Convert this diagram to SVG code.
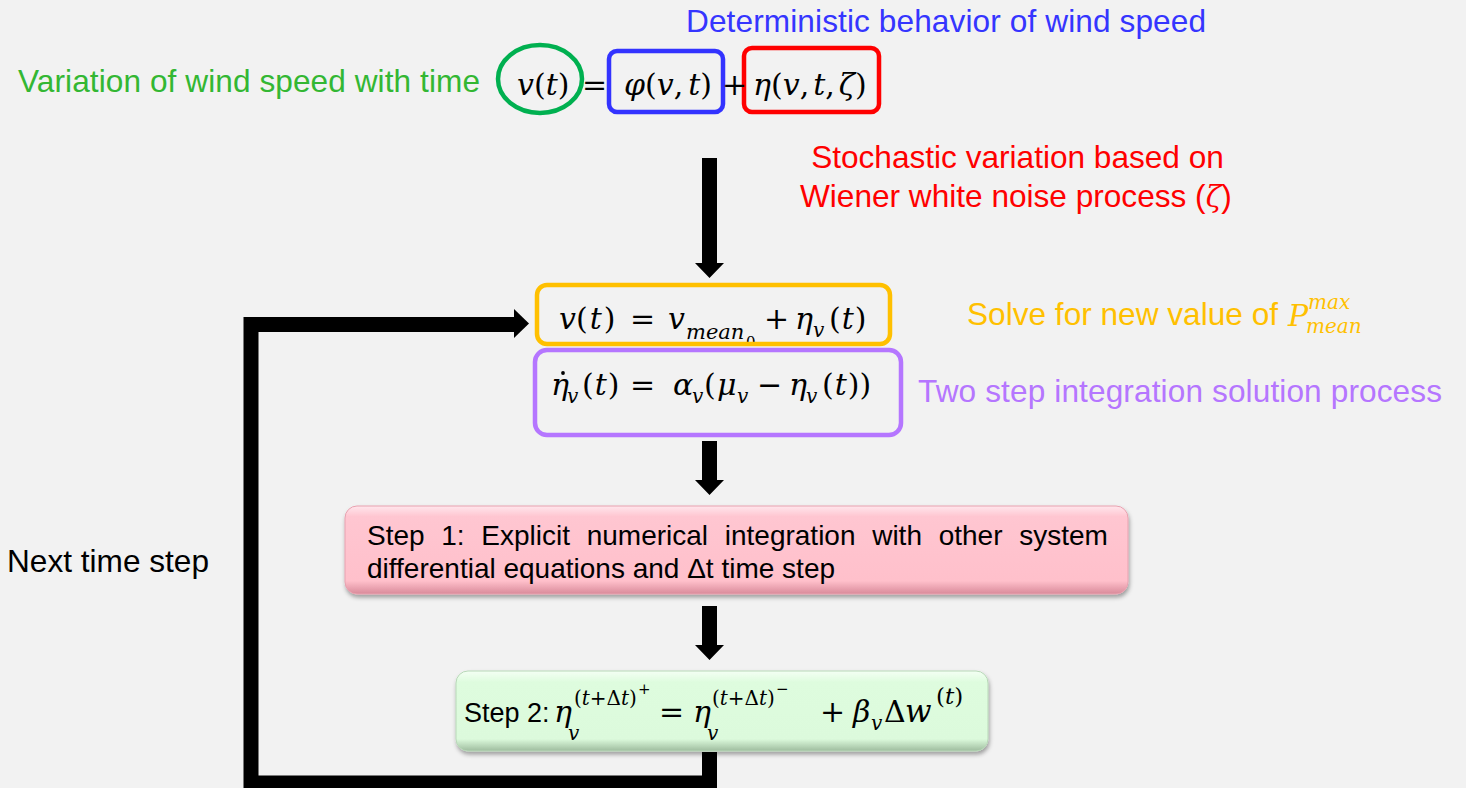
<svg xmlns="http://www.w3.org/2000/svg" width="1466" height="788" viewBox="0 0 1466 788">
<style>
.lbl{font-family:"Liberation Sans",Arial,sans-serif;font-size:31.6px}
.m{font-family:"DejaVu Serif","Liberation Serif",serif;font-size:30px;fill:#000}
.i{font-style:italic}
.s{font-size:20px}
.b{font-family:"Liberation Sans",Arial,sans-serif;font-size:28px;fill:#000}
.frame{fill:none;stroke-width:4.5}
</style>
<defs>
<linearGradient id="gPink" x1="0" y1="0" x2="0" y2="1">
<stop offset="0" stop-color="#ffe6ec"/>
<stop offset="0.12" stop-color="#ffc6d1"/>
<stop offset="0.85" stop-color="#ffc0cb"/>
<stop offset="1" stop-color="#d98a9a"/>
</linearGradient>
<linearGradient id="gGreen" x1="0" y1="0" x2="0" y2="1">
<stop offset="0" stop-color="#f4fff4"/>
<stop offset="0.14" stop-color="#defcde"/>
<stop offset="0.85" stop-color="#dcfadc"/>
<stop offset="1" stop-color="#9ebc9e"/>
</linearGradient>
<filter id="sh" x="-5%" y="-20%" width="110%" height="150%">
<feDropShadow dx="1" dy="3" stdDeviation="2" flood-color="#000" flood-opacity="0.35"/>
</filter>
<clipPath id="clipO"><rect x="537" y="285" width="353" height="59" rx="9"/></clipPath>
</defs>
<rect width="1466" height="788" fill="#f2f2f2"/>

<g id="labels">
<text class="lbl" x="18" y="92" fill="#33b733" textLength="462">Variation of wind speed with time</text>
<text class="lbl" x="686" y="32" fill="#3535ff" textLength="520">Deterministic behavior of wind speed</text>
<text class="lbl" x="1017.5" y="168" fill="#ff0000" text-anchor="middle">Stochastic variation based on</text>
<text class="lbl" x="800" y="207" fill="#ff0000">Wiener white noise process (<tspan font-family="DejaVu Serif,serif" font-style="italic" font-size="29">ζ</tspan>)</text>
<text class="lbl" x="967" y="325" fill="#ffc000" textLength="311">Solve for new value of</text>
<text x="1288" y="326" class="m i" style="fill:#ffc000">P</text>
<text x="1308" y="309" class="m i s" style="fill:#ffc000">max</text>
<text x="1306" y="333" class="m i s" style="fill:#ffc000">mean</text>
<text class="lbl" x="918" y="402" fill="#b576ff" textLength="524">Two step integration solution process</text>
<text class="lbl" x="7" y="572" fill="#000" textLength="202">Next time step</text>
</g>

<g id="node-top-equation">
<ellipse cx="540" cy="79" rx="42" ry="34" fill="none" stroke="#00b050" stroke-width="4.5"/>
<rect x="609" y="51" width="114" height="61" rx="8" class="frame" stroke="#3333ff"/>
<rect x="744" y="48" width="135" height="64" rx="8" class="frame" stroke="#ff0000"/>
<text class="m" x="517" y="95"><tspan class="i">v</tspan>(<tspan class="i">t</tspan>)</text>
<text class="m" x="582" y="95">=</text>
<text class="m" x="624" y="95"><tspan class="i">φ</tspan>(<tspan class="i">v</tspan>,<tspan class="i" dx="5">t</tspan>)</text>
<text class="m" x="722" y="95">+</text>
<text class="m" x="753" y="95"><tspan class="i">η</tspan>(<tspan class="i">v</tspan>,<tspan class="i" dx="4">t</tspan>,<tspan class="i" dx="4">ζ</tspan>)</text>
</g>

<g id="node-orange">
<g clip-path="url(#clipO)">
<text class="m" x="559" y="329"><tspan class="i">v</tspan>(<tspan class="i" dx="2">t</tspan><tspan dx="2">)</tspan></text>
<text class="m" x="630" y="329">=</text>
<text class="m i" x="668" y="329">v</text>
<text class="m i" x="686" y="339" style="font-size:21px">mean</text>
<text class="m" x="746" y="347" style="font-size:15px">0</text>
<text class="m" x="764" y="329">+</text>
<text class="m i" x="795" y="329">η</text>
<text class="m i s" x="813" y="337">v</text>
<text class="m" x="829" y="329">(<tspan class="i" dx="1">t</tspan><tspan dx="1">)</tspan></text>
</g>
<rect x="537" y="285" width="353" height="59" rx="10" class="frame" stroke="#ffc000"/>
</g>

<g id="node-purple">
<rect x="535" y="350" width="366" height="85" rx="12" class="frame" stroke="#b576ff"/>
<text class="m i" x="551" y="395">η</text>
<circle cx="563" cy="373" r="1.9" fill="#000"/>
<text class="m i s" x="567" y="403">v</text>
<text class="m" x="582" y="395">(<tspan class="i" dx="1">t</tspan><tspan dx="1">)</tspan></text>
<text class="m" x="630" y="395">=</text>
<text class="m i" x="673" y="395">α</text>
<text class="m i s" x="692" y="403">v</text>
<text class="m" x="704" y="395">(</text>
<text class="m i" x="717" y="395">μ</text>
<text class="m i s" x="737" y="403">v</text>
<text class="m" x="757" y="395">−</text>
<text class="m i" x="789" y="395">η</text>
<text class="m i s" x="806" y="403">v</text>
<text class="m" x="822" y="395">(<tspan class="i" dx="1">t</tspan><tspan dx="1">))</tspan></text>
</g>

<g id="node-step1">
<rect x="345" y="506" width="783" height="88" rx="12" fill="url(#gPink)" stroke="#e8a2b0" stroke-width="1" filter="url(#sh)"/>
<text class="b" x="367" y="545" word-spacing="8.9">Step 1: Explicit numerical integration with other system</text>
<text class="b" x="367" y="578">differential equations and Δt time step</text>
</g>

<g id="node-step2">
<rect x="456" y="671" width="532" height="80" rx="12" fill="url(#gGreen)" stroke="#b8d8b8" stroke-width="1" filter="url(#sh)"/>
<text class="b" x="464" y="722" style="font-size:27px">Step 2:</text>
<text class="m i" x="554" y="722">η</text>
<text class="m i s" x="568" y="740">v</text>
<text class="m s" x="574" y="705">(<tspan class="i">t</tspan>+Δ<tspan class="i">t</tspan>)</text>
<text class="m" x="638" y="694" style="font-size:15px">+</text>
<text class="m" x="659" y="722">=</text>
<text class="m i" x="693" y="722">η</text>
<text class="m i s" x="707" y="740">v</text>
<text class="m s" x="712" y="705">(<tspan class="i">t</tspan>+Δ<tspan class="i">t</tspan>)</text>
<text class="m" x="776" y="694" style="font-size:15px">−</text>
<text class="m" x="820" y="722">+</text>
<text class="m i" x="853" y="722">β</text>
<text class="m i s" x="871" y="730">v</text>
<text class="m" x="884" y="722">Δ</text>
<text class="m i" x="905" y="722" style="font-size:31px">w</text>
<text class="m" x="936" y="704" style="font-size:23px">(<tspan class="i">t</tspan>)</text>
</g>

<g id="connectors" fill="#000">
<path d="M702,158 H717 V263 H724 L709.5,278 L695,263 H702 Z"/>
<path d="M702,441 H717 V480 H724 L709.5,495 L695,480 H702 Z"/>
<path d="M702,606 H717 V645 H724 L709.5,660 L695,645 H702 Z"/>
<path d="M709.5,752 V783 H251 V324.5 H516" fill="none" stroke="#000" stroke-width="15" stroke-linejoin="miter"/>
<path d="M514,309 L529,323.5 L514,338 Z"/>
</g>
</svg>
